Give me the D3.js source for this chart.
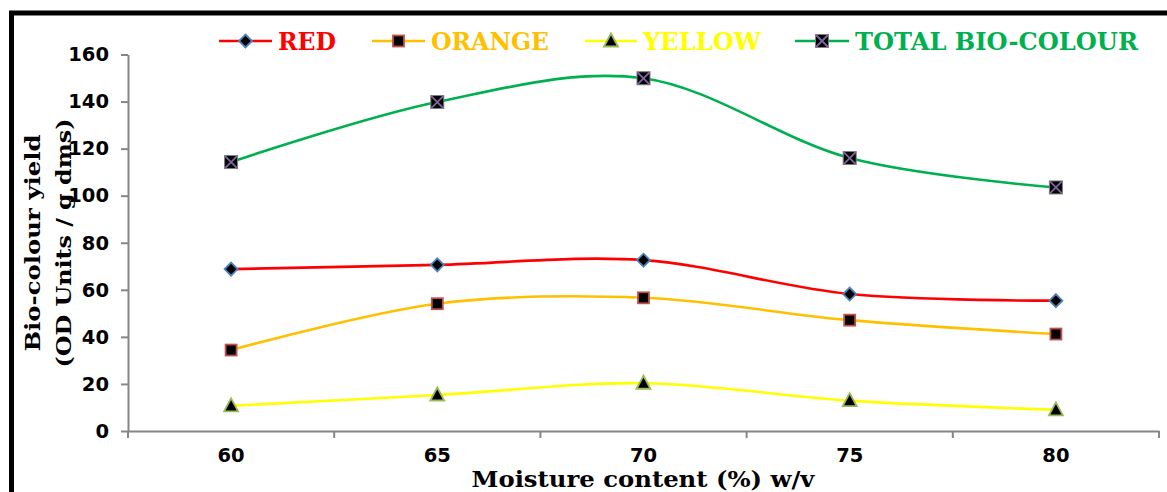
<!DOCTYPE html>
<html>
<head>
<meta charset="utf-8">
<script src="https://cdn.jsdelivr.net/npm/d3@7"></script>
<style>
  html, body { margin: 0; padding: 0; background: #fff; }
  svg { display: block; }
</style>
</head>
<body>
<svg id="chart" width="1167" height="492"></svg>
<script>
// Moisture content levels (% w/v)
const categories = ["60", "65", "70", "75", "80"];
// Bio-colour yield (OD units / g dms)
const redValues    = [68.8, 70.6, 72.6, 58.2, 55.4];
const orangeValues = [34.4, 54.1, 56.6, 47.1, 41.2];
const yellowValues = [10.7, 15.3, 20.3, 12.9, 9.0];
const totalValues  = [114.3, 139.8, 149.9, 116.0, 103.5];
const yTicks = [0, 20, 40, 60, 80, 100, 120, 140, 160];

const series = [
  { name: "RED", values: redValues, color: "#ff0000", marker: "diamond", mfill: "#000", mstroke: "#4f81bd", legendX: 219, textX: 278, textW: 58 },
  { name: "ORANGE", values: orangeValues, color: "#ffc000", marker: "square", mfill: "#000", mstroke: "#c0504d", legendX: 372, textX: 431, textW: 118 },
  { name: "YELLOW", values: yellowValues, color: "#ffff00", marker: "triangle", mfill: "#000", mstroke: "#9bbb59", legendX: 585, textX: 643, textW: 118 },
  { name: "TOTAL BIO-COLOUR", values: totalValues, color: "#00b050", marker: "xsquare", mfill: "#000", mstroke: "#8064a2", legendX: 795, textX: 855, textW: 283 }
];

const svg = d3.select("#chart");
const plot = { left: 128, right: 1159, top: 54.5, bottom: 431 };

const x = d3.scaleBand().domain(categories).range([plot.left, plot.right]).padding(0);
const y = d3.scaleLinear().domain([0, 160]).range([plot.bottom, plot.top]);
const cx = c => x(c) + x.bandwidth() / 2;

// outer frame (top and left edges)
svg.append("path")
  .attr("d", "M11.5,492 L11.5,13 L1167,13")
  .attr("fill", "none").attr("stroke", "#000").attr("stroke-width", 5);

const axisColor = "#868686";
const sans = "DejaVu Sans, Verdana, sans-serif";

// y axis
const yAxis = svg.append("g")
  .attr("transform", `translate(${plot.left},0)`)
  .call(d3.axisLeft(y).tickValues(yTicks).tickSize(7).tickPadding(12).tickSizeOuter(0));
yAxis.select(".domain").attr("stroke", axisColor).attr("stroke-width", 2);
yAxis.selectAll(".tick line").attr("stroke", axisColor).attr("stroke-width", 2);
yAxis.selectAll(".tick text")
  .attr("font-family", sans)
  .attr("font-weight", "bold").attr("font-size", 19.5).attr("fill", "#000");

// x axis: labels at category centres, ticks at category boundaries
const xAxis = svg.append("g")
  .attr("transform", `translate(0,${plot.bottom})`)
  .call(d3.axisBottom(x).tickSize(0).tickPadding(17).tickSizeOuter(0));
xAxis.select(".domain").attr("stroke", axisColor).attr("stroke-width", 2);
xAxis.selectAll(".tick text")
  .attr("font-family", sans)
  .attr("font-weight", "bold").attr("font-size", 19.5).attr("fill", "#000");
const bounds = categories.map(c => x(c)).concat([x(categories[categories.length - 1]) + x.bandwidth()]);
svg.append("g").selectAll("line").data(bounds).join("line")
  .attr("x1", d => d).attr("x2", d => d)
  .attr("y1", plot.bottom).attr("y2", plot.bottom + 7)
  .attr("stroke", axisColor).attr("stroke-width", 2);

// axis titles
const serif = "DejaVu Serif, Bookman Old Style, serif";
svg.append("text")
  .attr("x", 643).attr("y", 487)
  .attr("text-anchor", "middle")
  .attr("font-family", serif).attr("font-weight", "bold").attr("font-size", 22)
  .attr("textLength", 343).attr("lengthAdjust", "spacingAndGlyphs")
  .text("Moisture content (%) w/v");

svg.append("text")
  .attr("transform", "translate(40,243) rotate(-90)")
  .attr("text-anchor", "middle")
  .attr("font-family", serif).attr("font-weight", "bold").attr("font-size", 21)
  .attr("textLength", 217).attr("lengthAdjust", "spacingAndGlyphs")
  .text("Bio-colour yield");
svg.append("text")
  .attr("transform", "translate(71,243) rotate(-90)")
  .attr("text-anchor", "middle")
  .attr("font-family", serif).attr("font-weight", "bold").attr("font-size", 21)
  .attr("textLength", 249).attr("lengthAdjust", "spacingAndGlyphs")
  .text("(OD Units / g dms)");

// marker drawing
function drawMarker(g, s, px, py) {
  const m = g.append("g").attr("transform", `translate(${px},${py})`);
  if (s.marker === "diamond") {
    m.append("path").attr("d", "M0,-6.5 L6.5,0 L0,6.5 L-6.5,0 Z")
      .attr("fill", s.mfill).attr("stroke", s.mstroke).attr("stroke-width", 1.8);
  } else if (s.marker === "square") {
    m.append("rect").attr("x", -5.5).attr("y", -5.5).attr("width", 11).attr("height", 11)
      .attr("fill", s.mfill).attr("stroke", s.mstroke).attr("stroke-width", 1.8);
  } else if (s.marker === "triangle") {
    m.append("path").attr("d", "M0,-7.5 L7,5.5 L-7,5.5 Z")
      .attr("fill", s.mfill).attr("stroke", s.mstroke).attr("stroke-width", 1.8);
  } else {
    m.append("rect").attr("x", -6.5).attr("y", -6.5).attr("width", 13).attr("height", 13)
      .attr("fill", s.mfill).attr("stroke", "#7f7f7f").attr("stroke-width", 1);
    m.append("path").attr("d", "M-6,-6 L6,6 M6,-6 L-6,6")
      .attr("stroke", s.mstroke).attr("stroke-width", 1.8);
  }
}

// smoothed series lines with markers
const line = d3.line()
  .x((d, i) => cx(categories[i]))
  .y(d => y(d))
  .curve(d3.curveCardinal.tension(0));

const lines = svg.append("g");
series.forEach(s => {
  lines.append("path")
    .datum(s.values)
    .attr("d", line)
    .attr("fill", "none")
    .attr("stroke", s.color)
    .attr("stroke-width", 2.6);
});
series.forEach(s => {
  s.values.forEach((v, i) => drawMarker(svg, s, cx(categories[i]), y(v)));
});

// legend
const legend = svg.append("g");
series.forEach(s => {
  const x0 = s.legendX, x1 = s.textX - 6, ly = 41;
  legend.append("line").attr("x1", x0).attr("x2", x1).attr("y1", ly).attr("y2", ly)
    .attr("stroke", s.color).attr("stroke-width", 2.6);
  drawMarker(legend, s, (x0 + x1) / 2, ly);
  legend.append("text")
    .attr("x", s.textX).attr("y", ly + 8.5)
    .attr("font-family", serif).attr("font-weight", "bold").attr("font-size", 24)
    .attr("fill", s.color)
    .attr("textLength", s.textW).attr("lengthAdjust", "spacingAndGlyphs")
    .text(s.name);
});
</script>
</body>
</html>
